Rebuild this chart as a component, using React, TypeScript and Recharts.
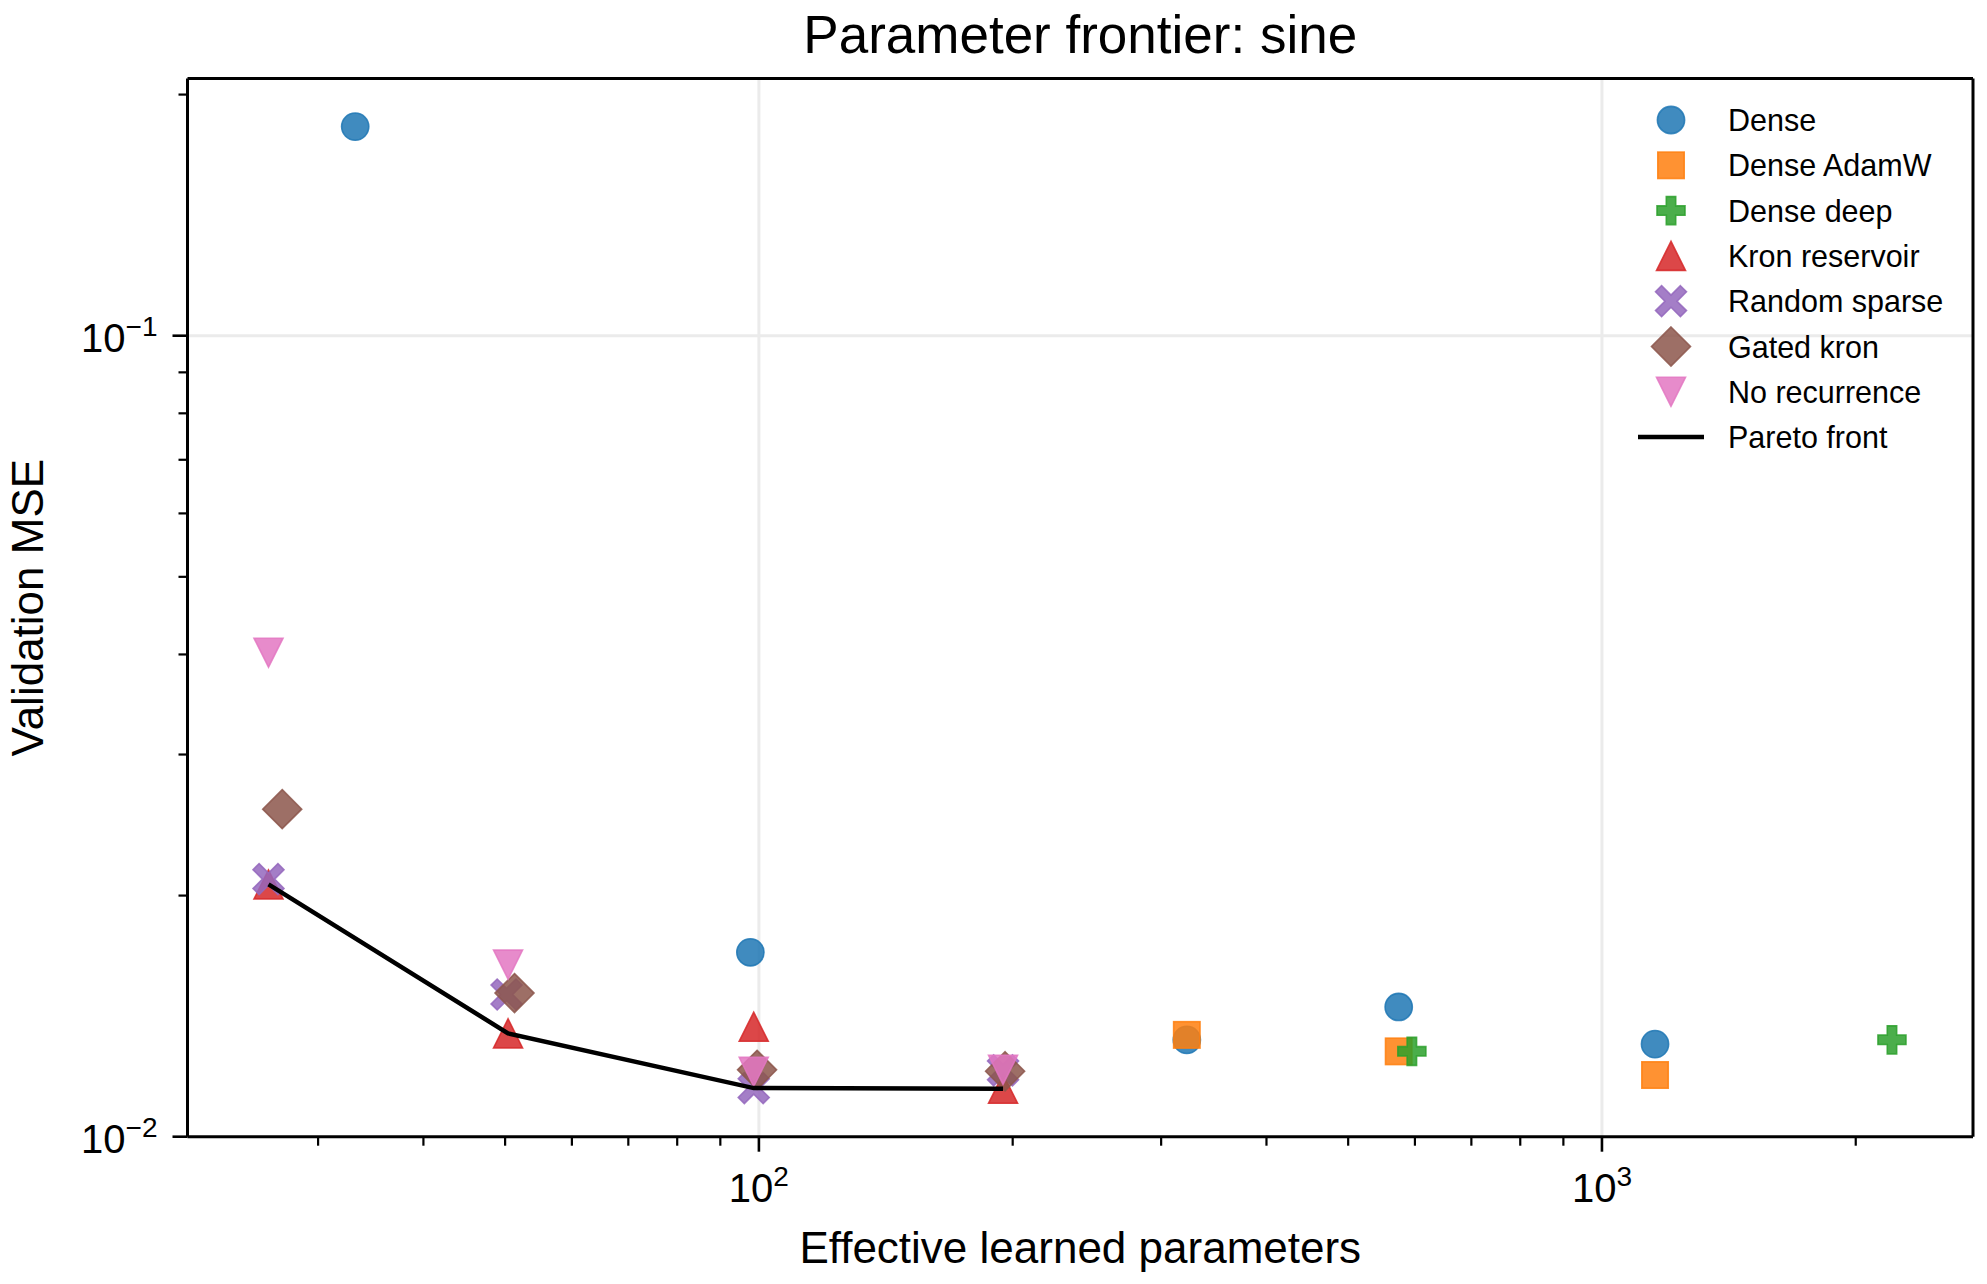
import React from 'react';
import { ComposedChart, Scatter, XAxis, YAxis, ReferenceLine, Legend, Label } from 'recharts';

// ---------------- data ----------------
const denseParams = [33.2, 97.7, 321.8, 574, 1156];
const denseMse = [0.1824, 0.01699, 0.01321, 0.01452, 0.01305];
const adamwParams = [321.8, 574, 1156];
const adamwMse = [0.0134, 0.01278, 0.01194];
const deepParams = [595, 2208];
const deepMse = [0.01278, 0.01321];
const kronParams = [26.2, 50.4, 98.6, 194.8];
const kronMse = [0.02065, 0.01346, 0.01372, 0.01148];
const sparseParams = [26.2, 50.2, 98.6, 194.8];
const sparseMse = [0.02097, 0.01505, 0.0115, 0.0121];
const gatedParams = [27.2, 51.3, 99.5, 195.9];
const gatedMse = [0.02564, 0.01511, 0.01212, 0.01207];
const norecParams = [26.2, 50.4, 98.6, 194.8];
const norecMse = [0.0402, 0.0164, 0.01205, 0.01212];
const paretoParams = [26.2, 50.4, 98.6, 194.8];
const paretoMse = [0.02065, 0.01346, 0.0115, 0.01148];

const xMajorTicks = [100, 1000];
const xMinorTicks = [30, 40, 50, 60, 70, 80, 90, 200, 300, 400, 500, 600, 700, 800, 900, 2000];
const yMajorTicks = [0.01, 0.1];
const yMinorTicks = [0.02, 0.03, 0.04, 0.05, 0.06, 0.07, 0.08, 0.09, 0.2];
const xDomain = [21.0, 2755];
const yDomain = [0.01, 0.2094];

const titleText = 'Parameter frontier: sine';
const xLabelText = 'Effective learned parameters';
const yLabelText = 'Validation MSE';

// ---------------- styling ----------------
const FONT = '"Liberation Sans", Arial, Helvetica, sans-serif';
const ALPHA = 0.85;

type Kind = 'circle' | 'square' | 'plus' | 'triUp' | 'x' | 'diamond' | 'triDown';

const pts = (xs: number[], ys: number[]) => xs.map((x, i) => ({ x, y: ys[i] }));

const seriesList: { name: string; kind: Kind; color: string; data: { x: number; y: number }[] }[] = [
  { name: 'Dense', kind: 'circle', color: '#1f77b4', data: pts(denseParams, denseMse) },
  { name: 'Dense AdamW', kind: 'square', color: '#ff7f0e', data: pts(adamwParams, adamwMse) },
  { name: 'Dense deep', kind: 'plus', color: '#2ca02c', data: pts(deepParams, deepMse) },
  { name: 'Kron reservoir', kind: 'triUp', color: '#d62728', data: pts(kronParams, kronMse) },
  { name: 'Random sparse', kind: 'x', color: '#9467bd', data: pts(sparseParams, sparseMse) },
  { name: 'Gated kron', kind: 'diamond', color: '#8c564b', data: pts(gatedParams, gatedMse) },
  { name: 'No recurrence', kind: 'triDown', color: '#e377c2', data: pts(norecParams, norecMse) },
];
const paretoData = pts(paretoParams, paretoMse);

function plusPoints(h: number, a: number) {
  return [
    [-a, -h], [a, -h], [a, -a], [h, -a], [h, a], [a, a],
    [a, h], [-a, h], [-a, a], [-h, a], [-h, -a], [-a, -a],
  ];
}

function MarkerShape({ kind, cx, cy, color }: { kind: Kind; cx: number; cy: number; color: string }) {
  const common = {
    fill: color,
    stroke: color,
    fillOpacity: ALPHA,
    strokeOpacity: ALPHA,
    strokeWidth: 1.6,
    strokeLinejoin: 'miter' as const,
  };
  if (cx == null || cy == null || isNaN(cx) || isNaN(cy)) return <g />;
  switch (kind) {
    case 'circle':
      return <circle cx={cx} cy={cy} r={13.6} {...common} />;
    case 'square':
      return <rect x={cx - 13.2} y={cy - 13.2} width={26.4} height={26.4} {...common} />;
    case 'plus': {
      const p = plusPoints(14, 4.7).map(([dx, dy]) => `${cx + dx},${cy + dy}`).join(' ');
      return <polygon points={p} {...common} />;
    }
    case 'x': {
      const p = plusPoints(17.6, 4.3).map(([dx, dy]) => `${cx + dx},${cy + dy}`).join(' ');
      return <polygon points={p} transform={`rotate(45 ${cx} ${cy})`} {...common} />;
    }
    case 'triUp': {
      const h = 14.5;
      const p = `${cx},${cy - h} ${cx - h},${cy + h} ${cx + h},${cy + h}`;
      return <polygon points={p} {...common} />;
    }
    case 'triDown': {
      const h = 14.5;
      const p = `${cx},${cy + h} ${cx - h},${cy - h} ${cx + h},${cy - h}`;
      return <polygon points={p} {...common} />;
    }
    case 'diamond': {
      const h = 19.5;
      const p = `${cx},${cy - h} ${cx + h},${cy} ${cx},${cy + h} ${cx - h},${cy}`;
      return <polygon points={p} {...common} />;
    }
  }
  return <g />;
}

const expLabel = (v: number) => {
  const e = Math.round(Math.log10(v));
  return e < 0 ? '\u2212' + Math.abs(e) : String(e);
};

function XTick(props: any) {
  const { x, y, payload } = props;
  const v = payload.value;
  const major = xMajorTicks.includes(v);
  return (
    <g>
      <line x1={x} y1={y} x2={x} y2={y + (major ? 15 : 9)} stroke="#000" strokeWidth={major ? 2.6 : 2.2} />
      {major && (
        <text x={x} y={y + 65} textAnchor="middle" fontFamily={FONT} fontSize={40} fill="#000">
          10
          <tspan dy={-16} fontSize={28}>{expLabel(v)}</tspan>
        </text>
      )}
    </g>
  );
}

function YTick(props: any) {
  const { x, y, payload } = props;
  const v = payload.value;
  const major = yMajorTicks.includes(v);
  return (
    <g>
      <line x1={x} y1={y} x2={x - (major ? 15 : 9)} y2={y} stroke="#000" strokeWidth={major ? 2.6 : 2.2} />
      {major && (
        <text x={x - 30} y={y + 16} textAnchor="end" fontFamily={FONT} fontSize={40} fill="#000">
          10
          <tspan dy={-16} fontSize={28}>{expLabel(v)}</tspan>
        </text>
      )}
    </g>
  );
}

function LegendContent() {
  const rowY = (i: number) => 30 + i * 45.3;
  return (
    <svg width={370} height={380} style={{ display: 'block', overflow: 'visible' }}>
      {seriesList.map((s, i) => (
        <g key={s.name}>
          <MarkerShape kind={s.kind} cx={51} cy={rowY(i)} color={s.color} />
          <text x={108} y={rowY(i) + 11} fontFamily={FONT} fontSize={30.5} fill="#000">
            {s.name}
          </text>
        </g>
      ))}
      <line x1={18} y1={rowY(7)} x2={84} y2={rowY(7)} stroke="#000" strokeWidth={4.5} />
      <text x={108} y={rowY(7) + 11} fontFamily={FONT} fontSize={30.5} fill="#000">
        Pareto front
      </text>
    </svg>
  );
}

const TitleContent = (props: any) => {
  const vb = props.viewBox || {};
  return (
    <text x={vb.x + vb.width / 2} y={53} textAnchor="middle" fontFamily={FONT} fontSize={53} fill="#000">
      {titleText}
    </text>
  );
};

const XLabelContent = (props: any) => {
  const vb = props.viewBox || {};
  return (
    <text x={vb.x + vb.width / 2} y={vb.y + 126} textAnchor="middle" fontFamily={FONT} fontSize={44} fill="#000">
      {xLabelText}
    </text>
  );
};

const YLabelContent = (props: any) => {
  const vb = props.viewBox || {};
  const cy = vb.y + vb.height / 2;
  const bx = 43;
  return (
    <text x={bx} y={cy} transform={`rotate(-90 ${bx} ${cy})`} textAnchor="middle" fontFamily={FONT} fontSize={44} fill="#000">
      {yLabelText}
    </text>
  );
};

export default function App() {
  const xTicks = [...xMinorTicks, ...xMajorTicks].sort((a, b) => a - b);
  const yTicks = [...yMinorTicks, ...yMajorTicks].sort((a, b) => a - b);
  return (
    <div style={{ position: 'absolute', left: 0, top: 0, width: 1987, height: 1284, background: '#fff' }}>
      <ComposedChart
        width={1987}
        height={1284}
        margin={{ top: 77.6, right: 13, bottom: 146.3, left: 186.5 }}
        style={{ fontFamily: FONT }}
      >
        <ReferenceLine x={100} stroke="#ebebeb" strokeWidth={3} ifOverflow="visible" />
        <ReferenceLine x={1000} stroke="#ebebeb" strokeWidth={3} ifOverflow="visible" />
        <ReferenceLine y={0.1} stroke="#ebebeb" strokeWidth={3} ifOverflow="visible" />
        <XAxis
          dataKey="x"
          type="number"
          scale="log"
          domain={xDomain}
          allowDataOverflow
          ticks={xTicks}
          interval={0}
          height={1}
          tickSize={0}
          tickMargin={0}
          tickLine={false}
          tick={<XTick />}
          axisLine={{ stroke: '#000', strokeWidth: 3 }}
        >
          <Label content={XLabelContent} />
        </XAxis>
        <XAxis
          xAxisId="top"
          orientation="top"
          dataKey="x"
          type="number"
          scale="log"
          domain={xDomain}
          allowDataOverflow
          height={1}
          tick={false}
          tickLine={false}
          axisLine={{ stroke: '#000', strokeWidth: 3 }}
        >
          <Label content={TitleContent} />
        </XAxis>
        <YAxis
          dataKey="y"
          type="number"
          scale="log"
          domain={yDomain}
          allowDataOverflow
          ticks={yTicks}
          interval={0}
          width={1}
          tickSize={0}
          tickMargin={0}
          tickLine={false}
          tick={<YTick />}
          axisLine={{ stroke: '#000', strokeWidth: 3 }}
        >
          <Label content={YLabelContent} />
        </YAxis>
        <YAxis
          yAxisId="right"
          orientation="right"
          dataKey="y"
          type="number"
          scale="log"
          domain={yDomain}
          allowDataOverflow
          width={1}
          tick={false}
          tickLine={false}
          axisLine={{ stroke: '#000', strokeWidth: 3 }}
        />
        {seriesList.map((s) => (
          <Scatter
            key={s.name}
            name={s.name}
            data={s.data}
            isAnimationActive={false}
            shape={(p: any) => <MarkerShape kind={s.kind} cx={p.cx} cy={p.cy} color={s.color} />}
          />
        ))}
        <Scatter
          name="Pareto front"
          data={paretoData}
          isAnimationActive={false}
          line={{ stroke: '#000', strokeWidth: 4.5 }}
          lineType="joint"
          shape={() => <g />}
        />
        <Legend
          layout="vertical"
          align="center"
          verticalAlign="middle"
          content={LegendContent}
          wrapperStyle={{ position: 'absolute', left: 1620, top: 90, width: 370, height: 380 }}
        />
      </ComposedChart>
    </div>
  );
}
